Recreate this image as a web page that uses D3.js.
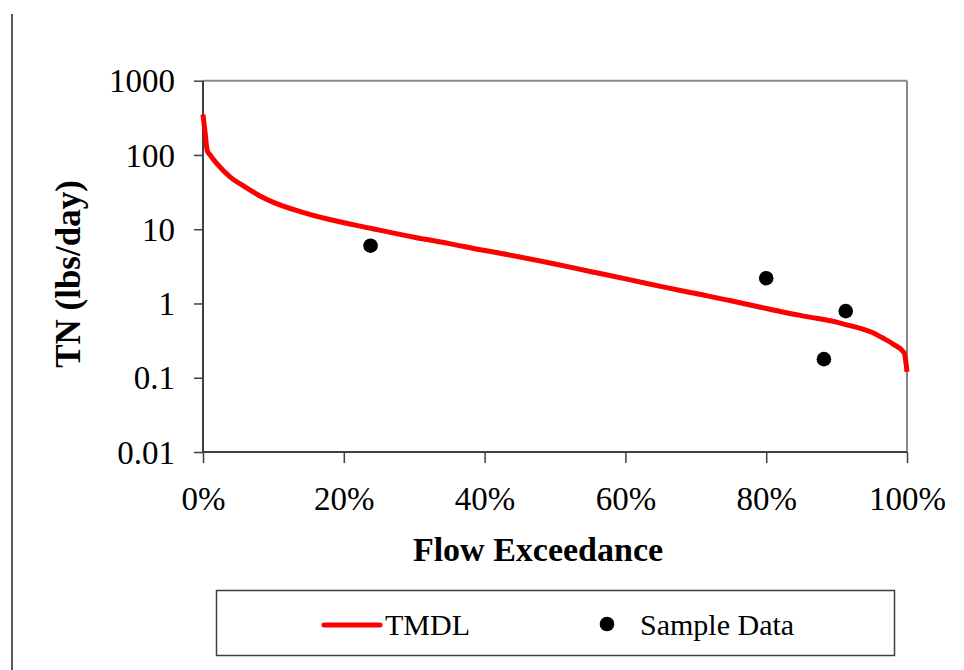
<!DOCTYPE html>
<html><head><meta charset="utf-8">
<script src="https://cdn.jsdelivr.net/npm/d3@7"></script>
<style>
html,body{margin:0;padding:0;background:#fff;}
svg{display:block;}
text{font-family:"Liberation Serif","Times New Roman",serif;}
</style></head>
<body>
<svg id="chart" width="964" height="670"></svg>
<script>
// TMDL curve: flow exceedance (fraction) and load (lbs/day)
const tmdlX = [0, 0.003, 0.006, 0.01, 0.02, 0.038, 0.06, 0.081, 0.10, 0.138, 0.18, 0.238, 0.30, 0.35, 0.394, 0.422, 0.50, 0.55, 0.607, 0.65, 0.70, 0.75, 0.792, 0.82, 0.86, 0.90, 0.916, 0.935, 0.95, 0.965, 0.982, 0.996, 1.0];
const tmdlY = [350, 200, 115, 100, 76, 51, 37, 28, 23, 17.3, 13.5, 10.3, 7.8, 6.4, 5.3, 4.75, 3.4, 2.7, 2.08, 1.7, 1.36, 1.09, 0.89, 0.78, 0.66, 0.56, 0.51, 0.46, 0.41, 0.345, 0.277, 0.216, 0.12];
// Sample data
const sampleX = [0.238, 0.80, 0.913, 0.882];
const sampleY = [6.0, 2.19, 0.79, 0.178];
// Ticks
const yTicks = [0.01, 0.1, 1, 10, 100, 1000];
const yTickLabels = ["0.01", "0.1", "1", "10", "100", "1000"];
const xTicks = [0, 0.2, 0.4, 0.6, 0.8, 1.0];
const xTickLabels = ["0%", "20%", "40%", "60%", "80%", "100%"];
const legendLabels = ["TMDL", "Sample Data"];

const svg = d3.select("#chart");
const L = 203, R = 907, T = 80.7, B = 452;
const x = d3.scaleLinear().domain([0, 1]).range([L, R]);
const y = d3.scaleLog().domain([0.01, 1000]).range([B, T]);

// left page rule
svg.append("line").attr("x1", 12).attr("x2", 12).attr("y1", 14).attr("y2", 670)
  .attr("stroke", "#000").attr("stroke-width", 1.3);

// plot border top/right
svg.append("line").attr("x1", L).attr("x2", R).attr("y1", T).attr("y2", T)
  .attr("stroke", "#888").attr("stroke-width", 2);
svg.append("line").attr("x1", R).attr("x2", R).attr("y1", T).attr("y2", B)
  .attr("stroke", "#888").attr("stroke-width", 2);

// Y axis
const yAxis = d3.axisLeft(y).tickValues(yTicks).tickSize(9).tickPadding(19)
  .tickFormat((d, i) => yTickLabels[i]);
const gy = svg.append("g").attr("transform", `translate(${L},0)`).call(yAxis);
gy.select(".domain").attr("stroke", "#404040").attr("stroke-width", 2).attr("d", `M0,${T}V${B}`);
gy.selectAll(".tick line").attr("stroke", "#404040").attr("stroke-width", 1.5);
gy.selectAll(".tick text").attr("font-size", 33).attr("fill", "#000")
  .attr("font-family", "Liberation Serif, serif").attr("dy", "0.34em");

// X axis
const xAxis = d3.axisBottom(x).tickValues(xTicks).tickSize(11).tickPadding(24)
  .tickFormat((d, i) => xTickLabels[i]);
const gx = svg.append("g").attr("transform", `translate(0,${B})`).call(xAxis);
gx.select(".domain").attr("stroke", "#404040").attr("stroke-width", 2.2).attr("d", `M${L},0H${R}`);
gx.selectAll(".tick line").attr("stroke", "#404040").attr("stroke-width", 1.5);
gx.selectAll(".tick text").attr("font-size", 33).attr("fill", "#000")
  .attr("font-family", "Liberation Serif, serif");

// TMDL line
const tmdl = tmdlX.map((d, i) => [d, tmdlY[i]]);
svg.append("path").datum(tmdl)
  .attr("fill", "none").attr("stroke", "#ff0000").attr("stroke-width", 5)
  .attr("stroke-linejoin", "round")
  .attr("d", d3.line().x(d => x(d[0])).y(d => y(d[1])).curve(d3.curveMonotoneX));

// Sample points
const samples = sampleX.map((d, i) => [d, sampleY[i]]);
svg.append("g").selectAll("circle").data(samples).join("circle")
  .attr("cx", d => x(d[0])).attr("cy", d => y(d[1])).attr("r", 7.3).attr("fill", "#000");

// Axis titles
svg.append("text").attr("x", 538).attr("y", 561).attr("text-anchor", "middle")
  .attr("font-size", 34).attr("font-weight", "bold").text("Flow Exceedance");
svg.append("text").attr("transform", "translate(80,274) rotate(-90)").attr("text-anchor", "middle")
  .attr("font-size", 35).attr("font-weight", "bold").text("TN (lbs/day)");

// Legend
const lg = svg.append("g");
lg.append("rect").attr("x", 216.5).attr("y", 590.5).attr("width", 678).attr("height", 65)
  .attr("fill", "#fff").attr("stroke", "#404040").attr("stroke-width", 1.5);
lg.append("line").attr("x1", 324).attr("x2", 380).attr("y1", 625).attr("y2", 625)
  .attr("stroke", "#ff0000").attr("stroke-width", 5).attr("stroke-linecap", "round");
lg.append("text").attr("x", 385).attr("y", 635).attr("font-size", 30).text(legendLabels[0]);
lg.append("circle").attr("cx", 607).attr("cy", 624).attr("r", 7.3).attr("fill", "#000");
lg.append("text").attr("x", 640).attr("y", 635).attr("font-size", 30).text(legendLabels[1]);
</script>
</body></html>
